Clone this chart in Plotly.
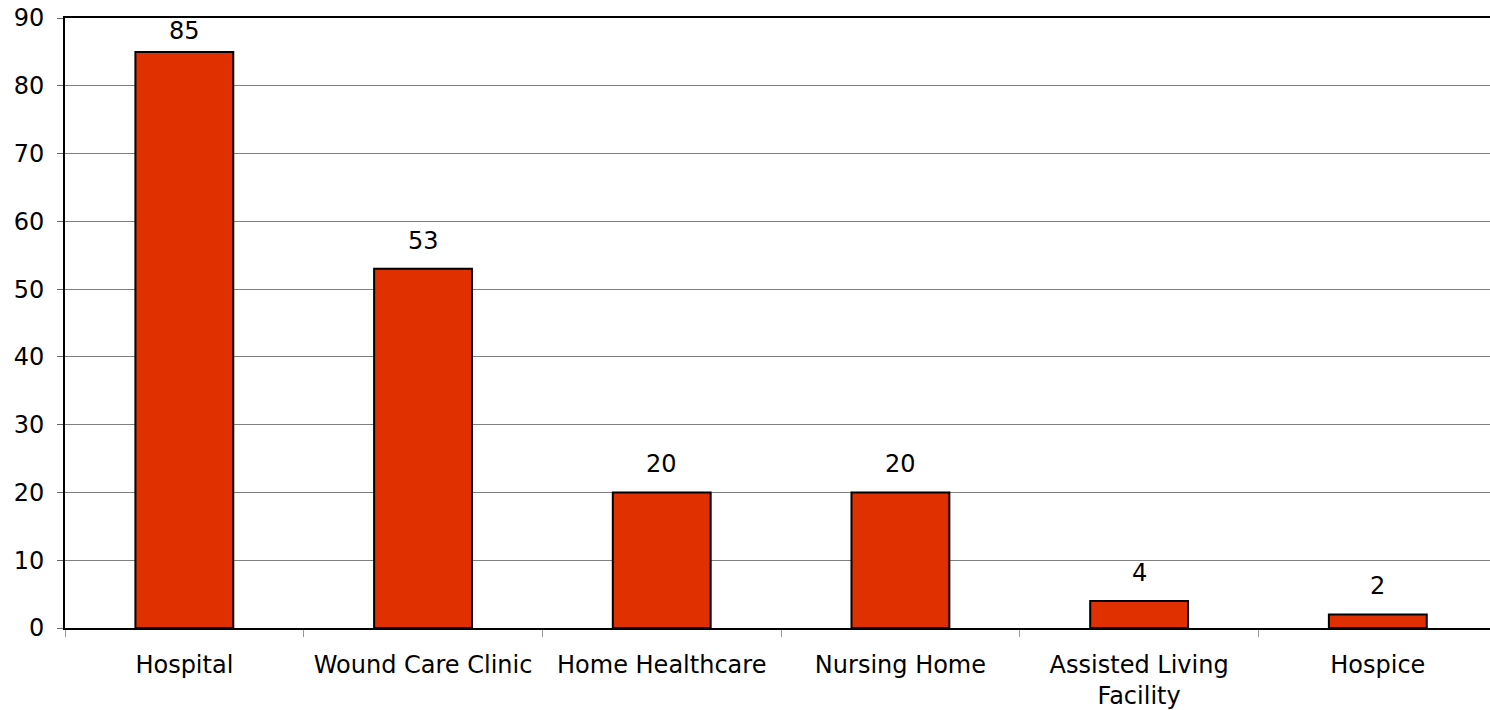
import plotly.graph_objects as go

categories = ["Hospital", "Wound Care Clinic", "Home Healthcare", "Nursing Home",
              "Assisted Living<br>Facility", "Hospice"]
values = [85, 53, 20, 20, 4, 2]
y_ticks = list(range(0, 91, 10))

FONT = "DejaVu Sans, Verdana, sans-serif"
Y_MAX = 90

fig = go.Figure(
    go.Bar(
        x=categories,
        y=values,
        width=0.41,
        marker=dict(color="#E03000", line=dict(color="#000000", width=2)),
        cliponaxis=False,
    )
)

# value labels above each bar; the tallest one is squeezed under the top border
for cat, val in zip(categories, values):
    shift = 12 if val < Y_MAX * 0.9 else 5
    fig.add_annotation(
        x=cat, y=val, text=str(val), showarrow=False,
        yanchor="bottom", yshift=shift,
        font=dict(size=24, color="#000000", family=FONT),
    )

fig.update_layout(
    width=1490,
    height=710,
    margin=dict(l=65, r=0, t=18, b=82),
    paper_bgcolor="white",
    plot_bgcolor="white",
    font=dict(family=FONT, size=24, color="#000000"),
    showlegend=False,
)
fig.update_xaxes(
    type="category",
    range=[-0.5, 5.47],
    tickson="boundaries",
    ticks="outside",
    ticklen=7,
    tickcolor="#999999",
    tickwidth=1,
    ticklabelstandoff=14,
    showline=True,
    linecolor="#000000",
    linewidth=2,
    mirror=True,
    showgrid=False,
)
fig.update_yaxes(
    range=[0, Y_MAX],
    tickvals=y_ticks,
    ticks="outside",
    ticklen=6,
    tickcolor="#666666",
    ticklabelstandoff=8,
    showline=True,
    linecolor="#000000",
    linewidth=2,
    showgrid=True,
    gridcolor="#808080",
    gridwidth=1,
    zeroline=False,
)

fig.write_html(
    "out.html",
    config={"displayModeBar": False},
    post_script="document.body.style.margin='0';",
)
